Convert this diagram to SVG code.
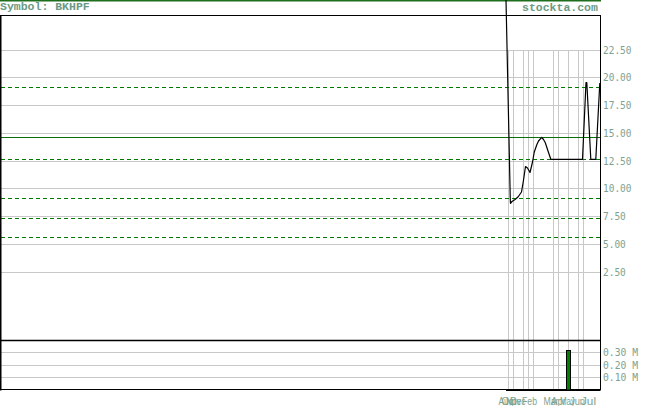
<svg xmlns="http://www.w3.org/2000/svg" width="655" height="406" viewBox="0 0 655 406">
<style>
.grid{stroke:#c8c8c8;stroke-width:1;fill:none}
.frame{stroke:#000;stroke-width:1;fill:none}
.lvl{stroke:#007a00;stroke-width:1;stroke-dasharray:4 3;fill:none}
.ax{font-family:"DejaVu Sans Mono","Liberation Mono",monospace;font-size:11px;fill:#7ea290}
.ttl{font-family:"Liberation Mono","DejaVu Sans Mono",monospace;font-size:11.5px;font-weight:bold;fill:#6b9a84}
.mon{font-family:"Liberation Sans",Arial,sans-serif;font-size:11px;fill:#7ea290}
</style>
<rect x="0" y="0" width="655" height="406" fill="#fff"/>
<rect x="0" y="0" width="601" height="1.5" fill="#1e6e1e"/>
<text class="ttl" x="0" y="10">Symbol: BKHPF</text>
<text class="ttl" x="522" y="10.5">stockta.com</text>
<g id="grid-h">
<line class="grid" x1="0" y1="50.5" x2="600" y2="50.5"/>
<line class="grid" x1="0" y1="77.5" x2="600" y2="77.5"/>
<line class="grid" x1="0" y1="105.5" x2="600" y2="105.5"/>
<line class="grid" x1="0" y1="133.5" x2="600" y2="133.5"/>
<line class="grid" x1="0" y1="161.5" x2="600" y2="161.5"/>
<line class="grid" x1="0" y1="188.5" x2="600" y2="188.5"/>
<line class="grid" x1="0" y1="216.5" x2="600" y2="216.5"/>
<line class="grid" x1="0" y1="244.5" x2="600" y2="244.5"/>
<line class="grid" x1="0" y1="272.5" x2="600" y2="272.5"/>
<line class="grid" x1="0" y1="352.5" x2="600" y2="352.5"/>
<line class="grid" x1="0" y1="365.5" x2="600" y2="365.5"/>
<line class="grid" x1="0" y1="377.5" x2="600" y2="377.5"/>
</g>
<g id="grid-v">
<line class="grid" x1="508.5" y1="50" x2="508.5" y2="390"/>
<line class="grid" x1="513.5" y1="50" x2="513.5" y2="390"/>
<line class="grid" x1="523.5" y1="50" x2="523.5" y2="390"/>
<line class="grid" x1="528.5" y1="50" x2="528.5" y2="390"/>
<line class="grid" x1="533.5" y1="50" x2="533.5" y2="390"/>
<line class="grid" x1="553.5" y1="50" x2="553.5" y2="390"/>
<line class="grid" x1="558.5" y1="50" x2="558.5" y2="390"/>
<line class="grid" x1="568.5" y1="50" x2="568.5" y2="390"/>
<line class="grid" x1="578.5" y1="50" x2="578.5" y2="390"/>
<line class="grid" x1="583.5" y1="50" x2="583.5" y2="390"/>
</g>
<g id="levels">
<line class="lvl" x1="1" y1="87.5" x2="600" y2="87.5"/>
<line x1="0" y1="137.5" x2="600" y2="137.5" stroke="#0a6e0a" stroke-width="1"/>
<line class="lvl" x1="1" y1="159.5" x2="600" y2="159.5"/>
<line class="lvl" x1="1" y1="198.5" x2="600" y2="198.5"/>
<line class="lvl" x1="1" y1="218.5" x2="600" y2="218.5"/>
<line class="lvl" x1="1" y1="237.5" x2="600" y2="237.5"/>
</g>
<g id="frame">
<line class="frame" x1="0" y1="15.5" x2="601" y2="15.5"/>
<line x1="0.75" y1="15" x2="0.75" y2="390.5" stroke="#000" stroke-width="1.5"/>
<line class="frame" x1="600.5" y1="15" x2="600.5" y2="390.5"/>
<line x1="0" y1="340.5" x2="601" y2="340.5" stroke="#000" stroke-width="1.3"/>
<line class="frame" x1="0" y1="389.5" x2="601" y2="389.5"/>
</g>
<g id="price-line">
<polyline fill="none" stroke="#000" stroke-width="1.2" stroke-linejoin="round" points="506,0 510.3,200 510.5,203.3 512,201.5 515,199.5 518,197 521.5,192 523.3,181.5 525.5,166.5 527.5,168 530,172.5 532.3,163 534.3,152 536.7,145 538.5,141 541.7,137.3 543.5,139.5 545.3,142.7 548,151 550.8,159.3 582.5,159.3 586,82.5 586.8,82.5 590.8,159.3 595.8,159.3 599.8,83"/>
</g>
<g id="volume">
<line x1="506" y1="390" x2="600" y2="390" stroke="#000" stroke-width="2"/>
<rect x="566.5" y="350.5" width="4" height="39.5" fill="#008000" stroke="#000" stroke-width="1"/>
</g>
<g id="axis-labels">
<text class="ax" x="603" y="54" textLength="28.5" lengthAdjust="spacingAndGlyphs">22.50</text>
<text class="ax" x="603" y="81" textLength="28.5" lengthAdjust="spacingAndGlyphs">20.00</text>
<text class="ax" x="603" y="109" textLength="28.5" lengthAdjust="spacingAndGlyphs">17.50</text>
<text class="ax" x="603" y="137" textLength="28.5" lengthAdjust="spacingAndGlyphs">15.00</text>
<text class="ax" x="603" y="165" textLength="28.5" lengthAdjust="spacingAndGlyphs">12.50</text>
<text class="ax" x="603" y="192" textLength="28.5" lengthAdjust="spacingAndGlyphs">10.00</text>
<text class="ax" x="603" y="220" textLength="22.8" lengthAdjust="spacingAndGlyphs">7.50</text>
<text class="ax" x="603" y="248" textLength="22.8" lengthAdjust="spacingAndGlyphs">5.00</text>
<text class="ax" x="603" y="276" textLength="22.8" lengthAdjust="spacingAndGlyphs">2.50</text>
<text class="ax" x="603" y="356" textLength="35" lengthAdjust="spacingAndGlyphs">0.30 M</text>
<text class="ax" x="603" y="369" textLength="35" lengthAdjust="spacingAndGlyphs">0.20 M</text>
<text class="ax" x="603" y="381" textLength="35" lengthAdjust="spacingAndGlyphs">0.10 M</text>
</g>
<g id="month-labels">
<text class="mon" x="498.5" y="405" textLength="15" lengthAdjust="spacingAndGlyphs">Aug</text>
<text class="mon" x="501.5" y="405" textLength="15" lengthAdjust="spacingAndGlyphs">Oct</text>
<text class="mon" x="506" y="405" textLength="15" lengthAdjust="spacingAndGlyphs">Nov</text>
<text class="mon" x="510.5" y="405" textLength="15" lengthAdjust="spacingAndGlyphs">Dec</text>
<text class="mon" x="522" y="405" textLength="15" lengthAdjust="spacingAndGlyphs">Feb</text>
<text class="mon" x="543.5" y="405" textLength="15" lengthAdjust="spacingAndGlyphs">Mar</text>
<text class="mon" x="551" y="405" textLength="15" lengthAdjust="spacingAndGlyphs">Apr</text>
<text class="mon" x="560" y="405" textLength="15" lengthAdjust="spacingAndGlyphs">May</text>
<text class="mon" x="570" y="405" textLength="15" lengthAdjust="spacingAndGlyphs">Jun</text>
<text class="mon" x="581" y="405" textLength="15" lengthAdjust="spacingAndGlyphs">Jul</text>
</g>
</svg>
